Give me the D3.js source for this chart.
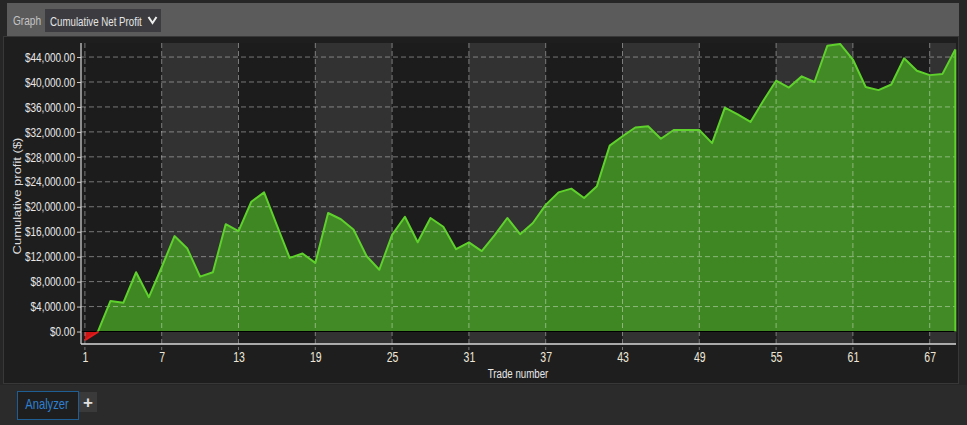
<!DOCTYPE html>
<html>
<head>
<meta charset="utf-8">
<script src="https://cdn.jsdelivr.net/npm/d3@7"></script>
<style>
  html, body { margin: 0; padding: 0; background: #262626; }
  svg { display: block; }
</style>
</head>
<body>
<svg id="chart" width="967" height="425"></svg>
<script>
// ---- data ----
const trades = d3.range(1, 70);
const profit = [
  -1400, -100, 4900, 4600, 9500, 5500, 10300, 15300, 13300, 8800,
  9500, 17200, 16100, 20800, 22300, 17000, 11800, 12500, 11000, 19000,
  18000, 16300, 12100, 9900, 15500, 18400, 14300, 18200, 16800, 13200,
  14300, 12900, 15400, 18200, 15600, 17400, 20300, 22300, 22900, 21400,
  23300, 29800, 31300, 32700, 32900, 30900, 32300, 32300, 32300, 30200,
  35900, 34800, 33600, 37000, 40200, 39100, 40900, 40000, 45800, 46100,
  43600, 39200, 38700, 39600, 43800, 41800, 41100, 41300, 45200
];
const xTicks = [1, 7, 13, 19, 25, 31, 37, 43, 49, 55, 61, 67];
const yTicks = [0, 4000, 8000, 12000, 16000, 20000, 24000, 28000, 32000, 36000, 40000, 44000];
const headerLabel = "Graph";
const dropdownLabel = "Cumulative Net Profit";
const xTitle = "Trade number";
const yTitle = "Cumulative profit ($)";
const tabLabel = "Analyzer";

const data = trades.map((t, i) => ({ t, v: profit[i] }));

const svg = d3.select("#chart");
const font = "'Liberation Sans', Arial, sans-serif";

function sqText(px, py, str, size, fill, anchor, sx) {
  return svg.append("text")
    .attr("transform", `translate(${px},${py}) scale(${sx},1)`)
    .attr("text-anchor", anchor || "start")
    .attr("font-family", font).attr("font-size", size).attr("fill", fill)
    .text(str);
}

// ---- frame ----
svg.append("rect").attr("x", 0).attr("y", 0).attr("width", 967).attr("height", 425).attr("fill", "#262626");
svg.append("rect").attr("x", 0).attr("y", 385).attr("width", 967).attr("height", 40).attr("fill", "#2b2b2b");
svg.append("rect").attr("x", 3.5).attr("y", 36.5).attr("width", 955).attr("height", 347)
  .attr("fill", "#1e1e1e").attr("stroke", "#383838");
// header
svg.append("rect").attr("x", 7).attr("y", 3).attr("width", 952).attr("height", 33).attr("fill", "#5b5b5b");
sqText(13, 25, headerLabel, 13.5, "#c4c4c4", "start", 0.75);
svg.append("rect").attr("x", 45).attr("y", 9).attr("width", 116).attr("height", 23).attr("fill", "#3c3c40");
sqText(50, 25.5, dropdownLabel, 13.5, "#e4e4e4", "start", 0.72);
svg.append("path").attr("d", "M148.5,17 L152.5,23 L156.5,17").attr("fill", "none")
  .attr("stroke", "#eeeeee").attr("stroke-width", 2);

// ---- plot ----
const pLeft = 81, pRight = 956, pTop = 43, pBottom = 344;
const x = d3.scaleLinear().domain([1, 69]).range([84.9, 955.3]);
const y = d3.scaleLinear().domain([-2000, 46250]).range([pBottom, pTop]);

// alternating bands
const bounds = [pLeft].concat(xTicks.slice(1).map(d => x(d))).concat([pRight]);
for (let i = 0; i < bounds.length - 1; i++) {
  svg.append("rect").attr("x", bounds[i]).attr("y", pTop)
    .attr("width", bounds[i + 1] - bounds[i]).attr("height", pBottom - pTop)
    .attr("fill", i % 2 === 1 ? "#323232" : "#1c1c1c");
}

// clip paths for positive/negative
const defs = svg.append("defs");
defs.append("clipPath").attr("id", "pos").append("rect")
  .attr("x", pLeft).attr("y", pTop - 5).attr("width", pRight - pLeft + 3).attr("height", y(0) - pTop + 5);
defs.append("clipPath").attr("id", "neg").append("rect")
  .attr("x", pLeft).attr("y", y(0)).attr("width", pRight - pLeft).attr("height", pBottom - y(0));

const area = d3.area().x(d => x(d.t)).y0(y(0)).y1(d => y(d.v));
const line = d3.line().x(d => x(d.t)).y(d => y(d.v));

svg.append("path").datum(data).attr("d", area).attr("clip-path", "url(#pos)")
  .attr("fill", "rgb(68,150,36)").attr("fill-opacity", 0.88);
svg.append("path").datum(data).attr("d", area).attr("clip-path", "url(#neg)")
  .attr("fill", "#cc1414");

// horizontal grid
svg.append("g").selectAll("line").data(yTicks).join("line")
  .attr("x1", pLeft).attr("x2", pRight).attr("y1", d => y(d)).attr("y2", d => y(d))
  .attr("stroke", "#ffffff").attr("stroke-opacity", 0.4).attr("stroke-dasharray", "5,3");
// vertical grid
svg.append("g").selectAll("line").data(xTicks).join("line")
  .attr("x1", d => x(d)).attr("x2", d => x(d)).attr("y1", pTop).attr("y2", pBottom + 6)
  .attr("stroke", "#ffffff").attr("stroke-opacity", 0.4).attr("stroke-dasharray", "5,3");

// zero line
svg.append("line").attr("x1", pLeft).attr("x2", pRight).attr("y1", y(0)).attr("y2", y(0))
  .attr("stroke", "#000").attr("stroke-width", 1.2);

// right edge drop
const last = data[data.length - 1];
svg.append("line").attr("x1", x(last.t)).attr("x2", x(last.t)).attr("y1", y(last.v)).attr("y2", y(0))
  .attr("stroke", "#5fd12c").attr("stroke-width", 2);

// lines (green positive, red negative)
svg.append("path").datum(data).attr("d", line).attr("clip-path", "url(#pos)")
  .attr("fill", "none").attr("stroke", "#5fd12c").attr("stroke-width", 2).attr("stroke-linejoin", "round");
svg.append("path").datum(data).attr("d", line).attr("clip-path", "url(#neg)")
  .attr("fill", "none").attr("stroke", "#e01c1c").attr("stroke-width", 2);

// axes
const fmt = d3.format(",.2f");
const yAxis = d3.axisLeft(y).tickValues(yTicks).tickSize(4).tickFormat(d => "$" + fmt(d));
const gy = svg.append("g").attr("transform", `translate(${pLeft},0)`).call(yAxis);
gy.select(".domain").remove();
gy.selectAll(".tick line").attr("stroke", "#cccccc");
gy.selectAll(".tick text").attr("fill", "#e8e8e8").attr("font-family", font).attr("font-size", 13)
  .attr("x", -6 / 0.77).attr("transform", "scale(0.77,1)");

const xAxis = d3.axisBottom(x).tickValues(xTicks).tickSize(0).tickFormat(d3.format("d"));
const gx = svg.append("g").attr("transform", `translate(0,${pBottom})`).call(xAxis);
gx.select(".domain").remove();
gx.selectAll(".tick text").attr("fill", "#efe8d8").attr("font-family", font).attr("font-size", 14)
  .attr("y", 8).attr("transform", "scale(0.75,1)");

svg.append("line").attr("x1", pLeft).attr("x2", pLeft).attr("y1", pTop).attr("y2", pBottom)
  .attr("stroke", "#d8d8d8").attr("stroke-width", 1.2);
svg.append("line").attr("x1", pLeft).attr("x2", pRight).attr("y1", pBottom).attr("y2", pBottom)
  .attr("stroke", "#d8d8d8").attr("stroke-width", 1.5);

// titles
sqText(518, 378, xTitle, 13.5, "#e8e8e8", "middle", 0.72);
svg.append("text").attr("transform", "translate(21,196) scale(0.85,1) rotate(-90)")
  .attr("text-anchor", "middle").text(yTitle)
  .attr("fill", "#dddddd").attr("font-family", font).attr("font-size", 13);

// tab bar
svg.append("rect").attr("x", 17.5).attr("y", 391.5).attr("width", 61).attr("height", 28)
  .attr("fill", "#1e1e1e").attr("stroke", "#1f5e92");
sqText(47, 409, tabLabel, 14, "#2f80cf", "middle", 0.8);
svg.append("rect").attr("x", 79).attr("y", 392).attr("width", 18).attr("height", 20).attr("fill", "#3a3a3a");
svg.append("text").attr("x", 88).attr("y", 408).attr("text-anchor", "middle").text("+")
  .attr("fill", "#e0e0e0").attr("font-family", font).attr("font-size", 17).attr("font-weight", "bold");
</script>
</body>
</html>
